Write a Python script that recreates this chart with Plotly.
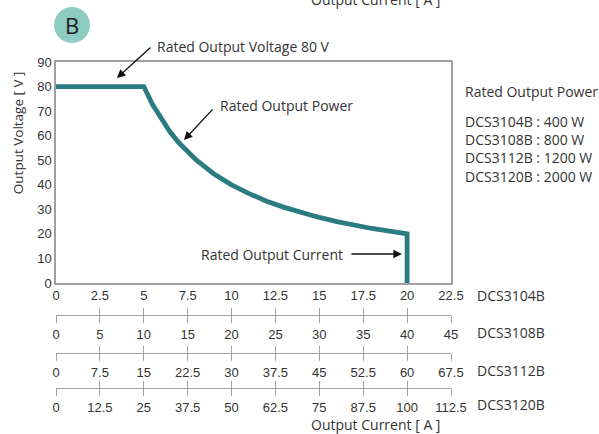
import plotly.graph_objects as go

# ---- data ----
current_a = [0, 5, 5.5, 6, 6.5, 7, 8, 9, 10, 11, 12, 13, 14, 15, 16, 17, 18, 19, 20, 20]
voltage_v = [80, 80, 72.7, 66.7, 61.5, 57.1, 50, 44.4, 40, 36.4, 33.3, 30.8, 28.6, 26.7, 25, 23.5, 22.2, 21.1, 20, 0]

ticks_3104 = [0, 2.5, 5, 7.5, 10, 12.5, 15, 17.5, 20, 22.5]
ticks_3108 = [0, 5, 10, 15, 20, 25, 30, 35, 40, 45]
ticks_3112 = [0, 7.5, 15, 22.5, 30, 37.5, 45, 52.5, 60, 67.5]
ticks_3120 = [0, 12.5, 25, 37.5, 50, 62.5, 75, 87.5, 100, 112.5]
y_ticks = [0, 10, 20, 30, 40, 50, 60, 70, 80, 90]

models = ["DCS3104B", "DCS3108B", "DCS3112B", "DCS3120B"]
powers = ["400 W", "800 W", "1200 W", "2000 W"]

TEAL = "#2b7c80"
GREY = "#a0a0a0"
TXT = "#333333"
TICKFONT = dict(family="Liberation Sans, Arial, sans-serif", size=13, color=TXT)
ANNFONT = dict(family="Open Sans, Noto Sans, sans-serif", size=14, color=TXT)

fig = go.Figure()
fig.add_trace(go.Scatter(x=current_a, y=voltage_v, mode="lines",
                         line=dict(color=TEAL, width=4.8), hoverinfo="skip",
                         showlegend=False))

# Secondary current scales (one subplot per scale + duplicate for upward ticks)
sec = [ticks_3108, ticks_3112, ticks_3120]
positions = [0.2602, 0.1491, 0.0468]
layout_axes = {}
for i, (tv, pos) in enumerate(zip(sec, positions)):
    n_lab = 2 + i
    n_up = 5 + i
    for n, lab in ((n_lab, True), (n_up, False)):
        fig.add_trace(go.Scatter(x=[tv[0], tv[-1]], y=[0, 0], mode="markers",
                                 marker=dict(opacity=0), xaxis=f"x{n}",
                                 hoverinfo="skip", showlegend=False))
        layout_axes[f"xaxis{n}"] = dict(
            overlaying="x", anchor="free", position=pos, side="bottom",
            range=[tv[0], tv[-1]], tickvals=tv, ticktext=[f"{v:g}" for v in tv],
            showticklabels=lab, ticks="outside" if lab else "inside",
            ticklen=7, tickwidth=1.3, tickcolor=GREY, automargin=False,
            showline=True, linecolor=GREY, linewidth=1.3, showgrid=False,
            zeroline=False, tickfont=TICKFONT,
        )

fig.update_layout(
    width=599, height=434,
    margin=dict(l=56, r=148, t=62, b=30, autoexpand=False),
    paper_bgcolor="white", plot_bgcolor="white",
    showlegend=False,
    xaxis=dict(range=[0, 22.5], tickvals=ticks_3104,
               ticktext=[f"{v:g}" for v in ticks_3104], automargin=False,
               showline=True, mirror=True, linecolor=GREY, linewidth=1.5,
               showgrid=False, zeroline=False, ticks="", tickfont=TICKFONT),
    yaxis=dict(range=[0, 90], tickvals=y_ticks, domain=[0.3538, 1], automargin=False,
               showline=True, mirror=True, linecolor=GREY, linewidth=1.5,
               showgrid=False, zeroline=False, ticks="", tickfont=TICKFONT),
    **layout_axes,
)

ann = []
# y-axis title
ann.append(dict(text="Output Voltage [ V ]", xref="paper", yref="paper", x=-0.096, y=0.792,
                xanchor="center", yanchor="middle", textangle=-90, showarrow=False,
                font=dict(family="Open Sans, Noto Sans, sans-serif", size=13.5, color=TXT)))

label_y = [0.3538, 0.2602, 0.1491, 0.0468]
label_shift = [-12, -17, -17, -17]
for m, yy, sh in zip(models, label_y, label_shift):
    ann.append(dict(text=m, xref="paper", yref="paper", x=1.062, y=yy,
                    xanchor="left", yanchor="middle", yshift=sh, showarrow=False,
                    font=ANNFONT))

ann.append(dict(text="Rated Output Power", xref="paper", yref="paper", x=1.03, y=0.915,
                xanchor="left", yanchor="middle", showarrow=False, font=ANNFONT))
ann.append(dict(text="<br>".join(f"{m} : {p}" for m, p in zip(models, powers)),
                xref="paper", yref="paper", x=1.03, y=0.8596, xanchor="left",
                yanchor="top", align="left", showarrow=False, font=ANNFONT))

ann.append(dict(text="Output Current [ A ]", xref="paper", yref="paper", x=0.81, y=-0.0585,
                xanchor="center", yanchor="middle", showarrow=False, font=ANNFONT))
ann.append(dict(text="Output Current [ A ]", xref="paper", yref="paper", x=0.81, y=1.184,
                xanchor="center", yanchor="middle", showarrow=False, font=ANNFONT))

ann += [
    dict(text="Rated Output Voltage 80 V", xref="paper", yref="paper", x=0.25, y=1.0439,
         xanchor="left", yanchor="middle", showarrow=False, font=ANNFONT),
    dict(text="", x=3.47, y=83.5, ax=5.47, ay=96.5, axref="x", ayref="y",
         showarrow=True, arrowhead=2, arrowsize=1.3, arrowwidth=1.3, arrowcolor="#111"),
    dict(text="Rated Output Power", x=9.23, y=72.1, xanchor="left", yanchor="middle",
         showarrow=False, font=ANNFONT),
    dict(text="", x=7.29, y=58.2, ax=9.0, ay=71.3, axref="x", ayref="y",
         showarrow=True, arrowhead=2, arrowsize=1.3, arrowwidth=1.3, arrowcolor="#111"),
    dict(text="Rated Output Current", x=16.46, y=11.8, xanchor="right", yanchor="middle",
         showarrow=False, font=ANNFONT),
    dict(text="", x=19.7, y=11.8, ax=16.74, ay=11.8, axref="x", ayref="y",
         showarrow=True, arrowhead=2, arrowsize=1.3, arrowwidth=1.3, arrowcolor="#111"),
]

ann.append(dict(text="B", xref="paper", yref="paper", x=0.0405, y=1.108,
                xanchor="center", yanchor="middle", showarrow=False,
                font=dict(family="Open Sans, Noto Sans, sans-serif", size=22, color="#1a1a1a")))
fig.update_layout(annotations=ann)
fig.add_shape(type="circle", xref="paper", yref="paper",
              x0=-0.005, x1=0.0861, y0=1.0556, y1=1.161,
              fillcolor="#8ecbc2", line=dict(width=0), layer="below")

fig.write_html("out.html", config={"displayModeBar": False},
               post_script="document.body.style.margin='0';document.body.style.overflow='hidden';")
